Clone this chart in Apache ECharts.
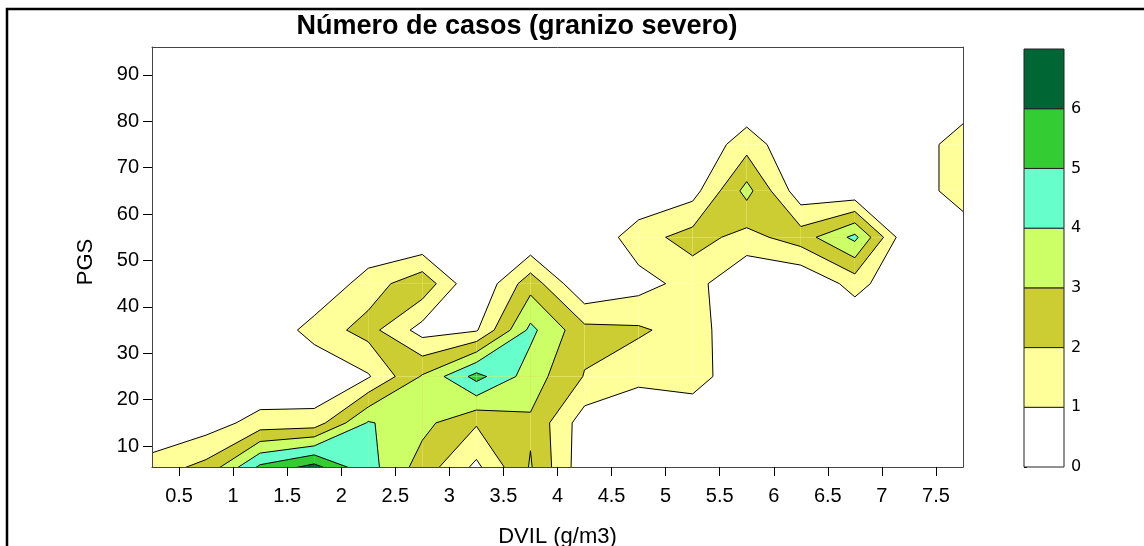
<!DOCTYPE html>
<html>
<head>
<meta charset="utf-8">
<script src="https://cdn.jsdelivr.net/npm/echarts@6/dist/echarts.min.js"></script>
<style>
  html, body { margin: 0; padding: 0; background: #ffffff; }
  #chart { width: 1144px; height: 546px; }
</style>
</head>
<body>
<div id="chart"></div>
<script>
// DVIL (g/m3) node centres and PGS node centres of the count grid
const dvil = [0.25, 0.75, 1.25, 1.75, 2.25, 2.75, 3.25, 3.75, 4.25, 4.75, 5.25, 5.75, 6.25, 6.75, 7.25, 7.75];
const pgs = [5, 15, 25, 35, 45, 55, 65, 75, 85, 95];

// Number of severe-hail cases at each node, one array per PGS row (left to right in DVIL)
const casesPgs5  = [1.55, 2.4, 5.4, 6.6, 4.4, 2.5, 0.7, 3.1, 0.3, 0, 0, 0, 0, 0, 0, 0];
const casesPgs15 = [0, 0.5, 1.4, 1.45, 4.1, 3.3, 2.1, 2.85, 0.45, 0, 0, 0, 0, 0, 0, 0];
const casesPgs25 = [0, 0, 0, 0, 0.9, 3.1, 5.35, 3.5, 1.95, 1.3, 1.6, 0, 0, 0, 0, 0];
const casesPgs35 = [0, 0, 0, 1.45, 2.37, 0.6, 0.9, 4.25, 2.3, 2.15, 1.55, 0, 0, 0, 0, 0];
const casesPgs45 = [0, 0, 0, 0, 1.5, 2.7, 0, 2.6, 0, 0.6, 1.4, 0, 0, 1.4, 0, 0];
const casesPgs55 = [0, 0, 0, 0, 0, 0, 0, 0, 0, 1.6, 2.4, 1.65, 2.5, 4.26, 0, 0];
const casesPgs65 = [0, 0, 0, 0, 0, 0, 0, 0, 0, 0, 0.6, 3.35, 0.35, 0.2, 0, 1.8];
const casesPgs75 = [0, 0, 0, 0, 0, 0, 0, 0, 0, 0, 0, 1.6, 0, 0, 0, 1.8];
const casesPgs85 = [0, 0, 0, 0, 0, 0, 0, 0, 0, 0, 0, 0, 0, 0, 0, 0];
const casesPgs95 = [0, 0, 0, 0, 0, 0, 0, 0, 0, 0, 0, 0, 0, 0, 0, 0];
const cases = [casesPgs5, casesPgs15, casesPgs25, casesPgs35, casesPgs45,
               casesPgs55, casesPgs65, casesPgs75, casesPgs85, casesPgs95];

// Contour class limits and fill colours (class k spans levels[k]..levels[k+1])
const levels = [0, 1, 2, 3, 4, 5, 6, 7];
const bandColors = ['#ffffff', '#ffff99', '#cccc33', '#ccff66', '#66ffcc', '#33cc33', '#006633'];

// Tick labels
const xTicks = [0.5, 1, 1.5, 2, 2.5, 3, 3.5, 4, 4.5, 5, 5.5, 6, 6.5, 7, 7.5];
const yTicks = [10, 20, 30, 40, 50, 60, 70, 80, 90];
const legendTicks = [0, 1, 2, 3, 4, 5, 6];

const FONT = '"Liberation Sans", Arial, Helvetica, sans-serif';

// One item per grid cell (i = DVIL index, j = PGS index)
const cells = [];
for (let j = 0; j < pgs.length - 1; j++) {
  for (let i = 0; i < dvil.length - 1; i++) cells.push([i, j]);
}

// Corners of a cell as [x, y, value], walked round the square
function cellQuad(i, j) {
  return [
    [dvil[i], pgs[j], cases[j][i]],
    [dvil[i + 1], pgs[j], cases[j][i + 1]],
    [dvil[i + 1], pgs[j + 1], cases[j + 1][i + 1]],
    [dvil[i], pgs[j + 1], cases[j + 1][i]]
  ];
}

function lerpPoint(a, b, c) {
  const t = (c - a[2]) / (b[2] - a[2]);
  return [a[0] + t * (b[0] - a[0]), a[1] + t * (b[1] - a[1]), c];
}

// Part of a cell where value >= c (marching squares with linear edges),
// plus the contour segments that bound it inside the cell
function superLevel(quad, c) {
  const poly = [], crossings = [];
  for (let k = 0; k < quad.length; k++) {
    const a = quad[k], b = quad[(k + 1) % quad.length];
    const ain = a[2] >= c, bin = b[2] >= c;
    if (ain) poly.push(a);
    if (ain !== bin) {
      const x = lerpPoint(a, b, c);
      poly.push(x);
      crossings.push({ p: x, exit: ain });
    }
  }
  const segs = [];
  for (let m = 0; m < crossings.length; m++) {
    const n = crossings[(m + 1) % crossings.length];
    if (crossings[m].exit && !n.exit) segs.push([crossings[m].p, n.p]);
  }
  return { poly: poly, segs: segs };
}

// Filled classes: each level's region is painted over the one below it
function renderBands(params, api) {
  const quad = cellQuad(api.value(0), api.value(1));
  const children = [];
  for (let k = 1; k < bandColors.length; k++) {
    const poly = superLevel(quad, levels[k]).poly;
    if (poly.length >= 3) {
      children.push({
        type: 'polygon',
        shape: { points: poly.map(function (p) { return api.coord([p[0], p[1]]); }) },
        style: { fill: bandColors[k] }
      });
    }
  }
  return { type: 'group', children: children };
}

function renderIsolines(params, api) {
  const quad = cellQuad(api.value(0), api.value(1));
  const children = [];
  for (let k = 1; k < bandColors.length; k++) {
    superLevel(quad, levels[k]).segs.forEach(function (s) {
      const p1 = api.coord([s[0][0], s[0][1]]);
      const p2 = api.coord([s[1][0], s[1][1]]);
      children.push({
        type: 'line',
        shape: { x1: p1[0], y1: p1[1], x2: p2[0], y2: p2[1] },
        style: { stroke: '#000000', lineWidth: 1 }
      });
    });
  }
  return { type: 'group', children: children };
}

function renderLegend(params, api) {
  const k = api.value(0);
  const p0 = api.coord([0, levels[k]]);
  const p1 = api.coord([1, levels[k + 1]]);
  return {
    type: 'rect',
    shape: { x: p0[0], y: p1[1], width: p1[0] - p0[0], height: p0[1] - p1[1] },
    style: { fill: bandColors[k], stroke: '#222222', lineWidth: 1 }
  };
}

const chart = echarts.init(document.getElementById('chart'), null, { renderer: 'canvas' });

chart.setOption({
  animation: false,
  backgroundColor: '#ffffff',
  textStyle: { fontFamily: FONT, color: '#000000' },
  title: {
    text: 'Número de casos (granizo severo)',
    left: 512,
    top: 8,
    textAlign: 'center',
    textStyle: { fontFamily: FONT, fontSize: 27, fontWeight: 'bold', color: '#000000' }
  },
  graphic: [{
    type: 'polyline',
    z: 100,
    shape: { points: [[7, 560], [7, 9], [1160, 9]] },
    style: { fill: null, stroke: '#000000', lineWidth: 2.5 }
  }],
  grid: [
    { left: 152, top: 47, width: 811, height: 420, outerBoundsMode: 'none', containLabel: false },
    { left: 1024, top: 49, width: 40, height: 418, outerBoundsMode: 'none', containLabel: false }
  ],
  xAxis: [
    {
      gridIndex: 0, type: 'value', min: 0.25, max: 7.75, position: 'bottom', z: 10,
      axisLine: { show: true, onZero: false, lineStyle: { color: '#444444', width: 1 } },
      axisTick: { show: true, length: 9, customValues: xTicks, lineStyle: { color: '#000000' } },
      axisLabel: { customValues: xTicks, fontSize: 20, color: '#000000', margin: 19, fontFamily: FONT },
      splitLine: { show: false },
      name: 'DVIL (g/m3)', nameLocation: 'middle', nameGap: 59,
      nameTextStyle: { fontSize: 22, color: '#000000', fontFamily: FONT }
    },
    {
      gridIndex: 0, type: 'value', min: 0.25, max: 7.75, position: 'top', z: 10,
      axisLine: { show: true, onZero: false, lineStyle: { color: '#444444', width: 1 } },
      axisTick: { show: false }, axisLabel: { show: false }, splitLine: { show: false }
    },
    { gridIndex: 1, type: 'value', min: 0, max: 1, show: false }
  ],
  yAxis: [
    {
      gridIndex: 0, type: 'value', min: 5.5, max: 96, position: 'left', z: 10,
      axisLine: { show: true, onZero: false, lineStyle: { color: '#444444', width: 1 } },
      axisTick: { show: true, length: 9, customValues: yTicks, lineStyle: { color: '#000000' } },
      axisLabel: { customValues: yTicks, fontSize: 20, color: '#000000', margin: 13, fontFamily: FONT },
      splitLine: { show: false },
      name: 'PGS', nameLocation: 'middle', nameGap: 55, nameRotate: 90,
      nameTextStyle: { fontSize: 22, color: '#000000', fontFamily: FONT, padding: [0, 10, 0, 0] }
    },
    {
      gridIndex: 0, type: 'value', min: 5.5, max: 96, position: 'right', z: 10,
      axisLine: { show: true, onZero: false, lineStyle: { color: '#444444', width: 1 } },
      axisTick: { show: false }, axisLabel: { show: false }, splitLine: { show: false }
    },
    {
      gridIndex: 1, type: 'value', min: 0, max: 7, interval: 1, position: 'right',
      axisLine: { show: false },
      axisTick: { show: true, length: 3, customValues: legendTicks, lineStyle: { color: '#000000' } },
      axisLabel: { customValues: legendTicks, fontSize: 16, color: '#000000', margin: 7, fontFamily: '"DejaVu Sans", sans-serif' },
      splitLine: { show: false }
    }
  ],
  series: [
    {
      type: 'custom', name: 'bands', xAxisIndex: 0, yAxisIndex: 0,
      clip: true, z: 2, silent: true,
      renderItem: renderBands, data: cells
    },
    {
      type: 'custom', name: 'isolines', xAxisIndex: 0, yAxisIndex: 0,
      clip: true, z: 3, silent: true,
      renderItem: renderIsolines, data: cells
    },
    {
      type: 'custom', name: 'legend', xAxisIndex: 2, yAxisIndex: 2,
      z: 2, silent: true,
      renderItem: renderLegend,
      data: levels.slice(0, -1).map(function (lo, k) { return [k]; })
    }
  ]
});
</script>
</body>
</html>
